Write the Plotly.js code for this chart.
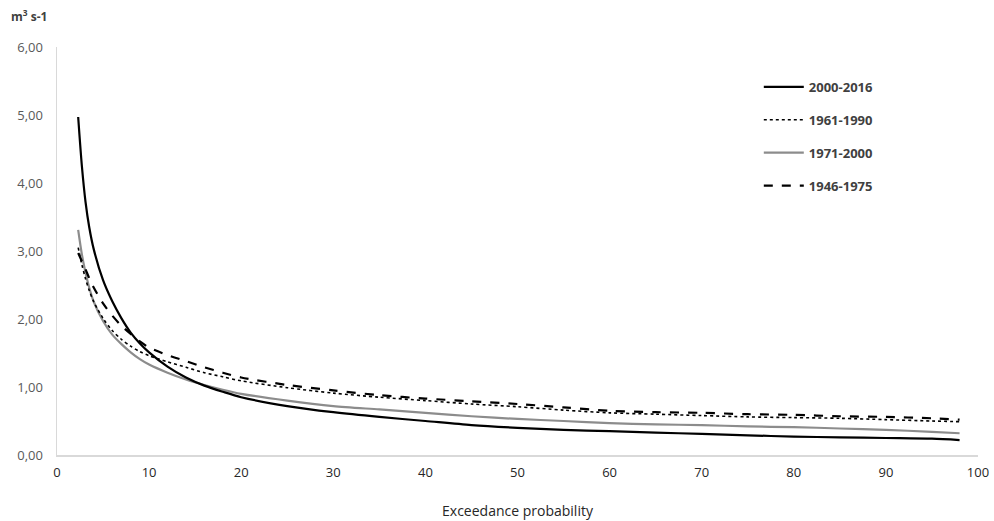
<!DOCTYPE html>
<html>
<head>
<meta charset="utf-8">
<script src="https://cdn.plot.ly/plotly-3.0.1.min.js"></script>
<style>html,body{margin:0;padding:0;background:#fff;}#chart{width:994px;height:521px;}</style>
</head>
<body>
<div id="chart"></div>
<script>
var probability = [2.3, 2.7, 3.1, 3.5, 4, 5, 6, 7, 8, 9, 10, 12, 14, 16, 18, 20, 25, 30, 35, 40, 45, 50, 55, 60, 65, 70, 75, 80, 85, 90, 95, 98];
var flow_2000_2016 = [4.97, 4.25, 3.72, 3.35, 3.02, 2.57, 2.26, 2.01, 1.80, 1.64, 1.51, 1.30, 1.14, 1.02, 0.93, 0.85, 0.72, 0.63, 0.56, 0.50, 0.44, 0.40, 0.37, 0.35, 0.33, 0.31, 0.29, 0.27, 0.26, 0.25, 0.24, 0.22];
var flow_1961_1990 = [3.05, 2.80, 2.59, 2.42, 2.25, 2.01, 1.83, 1.70, 1.60, 1.52, 1.46, 1.37, 1.29, 1.21, 1.15, 1.09, 0.99, 0.91, 0.85, 0.80, 0.75, 0.71, 0.66, 0.62, 0.60, 0.58, 0.56, 0.55, 0.54, 0.52, 0.50, 0.49];
var flow_1971_2000 = [3.31, 2.95, 2.68, 2.46, 2.25, 1.97, 1.77, 1.63, 1.51, 1.41, 1.33, 1.21, 1.11, 1.03, 0.96, 0.90, 0.80, 0.72, 0.67, 0.62, 0.57, 0.53, 0.50, 0.47, 0.45, 0.44, 0.42, 0.41, 0.39, 0.37, 0.34, 0.32];
var flow_1946_1975 = [2.97, 2.85, 2.73, 2.60, 2.46, 2.23, 2.05, 1.90, 1.78, 1.67, 1.58, 1.47, 1.38, 1.29, 1.21, 1.14, 1.03, 0.95, 0.88, 0.83, 0.79, 0.75, 0.70, 0.65, 0.63, 0.62, 0.60, 0.59, 0.57, 0.56, 0.54, 0.52];
var seriesNames = ["2000-2016", "1961-1990", "1971-2000", "1946-1975"];
var xTicks = [0, 10, 20, 30, 40, 50, 60, 70, 80, 90, 100];
var yTicks = [0, 1, 2, 3, 4, 5, 6];

var styles = [
  {color: "#000000", width: 2.2, dash: "solid"},
  {color: "#000000", width: 1.6, dash: "dot"},
  {color: "#8c8c8c", width: 2.2, dash: "solid"},
  {color: "#000000", width: 2.2, dash: "dash"}
];
var ys = [flow_2000_2016, flow_1961_1990, flow_1971_2000, flow_1946_1975];
var traces = ys.map(function(y, i) {
  return {
    x: probability, y: y, name: seriesNames[i], type: "scatter", mode: "lines",
    line: {color: styles[i].color, width: styles[i].width, dash: styles[i].dash, shape: "spline", smoothing: 0.8},
    legendgroup: "g" + i, legendrank: i + 1
  };
});
// draw order: put 2000-2016 on top
var drawOrder = [traces[2], traces[1], traces[3], traces[0]];

var layout = {
  width: 994, height: 521,
  margin: {l: 57, r: 16, t: 47, b: 66},
  paper_bgcolor: "#ffffff", plot_bgcolor: "#ffffff",
  separators: ", ",
  font: {family: "Open Sans, Liberation Sans, sans-serif", size: 12, color: "#595959"},
  showlegend: true,
  legend: {
    x: 0.762, y: 0.939, xanchor: "left", yanchor: "top",
    bgcolor: "rgba(0,0,0,0)", traceorder: "grouped", tracegroupgap: 13,
    font: {family: "Open Sans, Liberation Sans, sans-serif", size: 13, color: "#404040", weight: "bold"},
    itemwidth: 40
  },
  xaxis: {
    range: [0, 100], tickvals: xTicks, ticktext: xTicks.map(String),
    showgrid: false, zeroline: false, showline: true, linecolor: "#d9d9d9", linewidth: 1.5,
    ticks: "", ticklen: 0, ticklabelstandoff: 5,
    tickfont: {size: 13, color: "#262626"},
    title: {text: "Exceedance probability", font: {size: 14, color: "#262626"}, standoff: 26}
  },
  yaxis: {
    range: [0, 6], tickvals: yTicks, tickformat: ".2f",
    showgrid: false, zeroline: false, showline: true, linecolor: "#d9d9d9", linewidth: 1.5,
    ticks: "", ticklabelstandoff: 10, tickfont: {size: 13, color: "#595959"}
  },
  annotations: [{
    xref: "paper", yref: "paper", x: -0.052, y: 1.075, xanchor: "left", yanchor: "middle",
    text: "<b>m<sup>3</sup> s-1</b>", showarrow: false,
    font: {family: "Open Sans, Liberation Sans, sans-serif", size: 12, color: "#404040"}
  }]
};
Plotly.newPlot("chart", drawOrder, layout, {displayModeBar: false, staticPlot: true});
</script>
</body>
</html>
